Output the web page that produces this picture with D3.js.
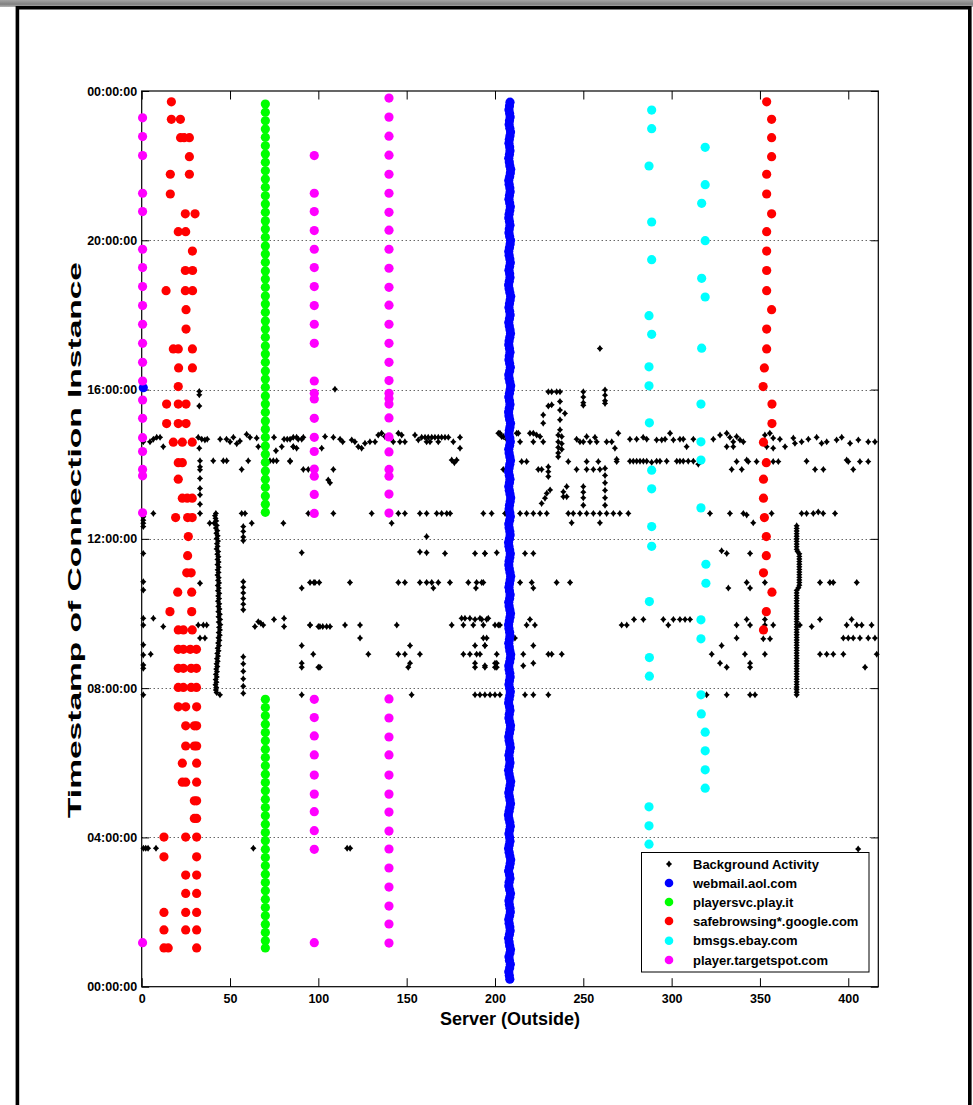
<!DOCTYPE html>
<html>
<head>
<meta charset="utf-8">
<script src="https://cdn.jsdelivr.net/npm/d3@7"></script>
<style>
  html, body { margin: 0; padding: 0; background: #fff; }
  svg { display: block; }
  text { font-family: "Liberation Sans", Arial, Helvetica, sans-serif; font-weight: bold; fill: #000; }
</style>
</head>
<body>
<svg id="chart" width="973" height="1105"></svg>
<script>
// ---------- axes ----------
const serverTicks = [0, 50, 100, 150, 200, 250, 300, 350, 400];
const hourTicks = [0, 4, 8, 12, 16, 20, 24];
const hourTickLabels = ["00:00:00", "04:00:00", "08:00:00", "12:00:00", "16:00:00", "20:00:00", "00:00:00"];
const serverDomain = [0, 417];
const hourDomain = [0, 24];

// ---------- legend ----------
const seriesNames = ["Background Activity", "webmail.aol.com", "playersvc.play.it",
  "safebrowsing*.google.com", "bmsgs.ebay.com", "player.targetspot.com"];
const seriesColors = ["#000000", "#0000ff", "#00ff00", "#ff0000", "#00ffff", "#ff00ff"];

// ---------- background activity: [server, hour] ----------
const backgroundScatter = [
  [0.9,14.60],[4.7,14.60],[6.6,14.67],[8.5,14.72],[10.4,14.72],[12.2,14.47],
  [32,14.72],[34,14.67],[35.8,14.65],[37.1,14.67],[32.6,14.43],
  [32.6,15.95],[32.6,15.86],[32.6,15.56],
  [44.4,14.67],[48,14.67],[50,14.60],[51.9,14.72],[53.8,14.55],[55.6,14.62],[59.4,14.80],[61.3,14.72],
  [65.1,14.70],[66,14.47],[74.9,14.72],[76,14.36],[79.3,14.47],[80.6,14.67],[82.4,14.67],[85.8,14.47],[87.7,14.72],[90.6,14.67],
  [33,14.09],[40.5,14.09],[46.2,14.09],[48.1,14.09],[60.3,14.09],[72.6,14.09],[74.5,14.09],[76.4,14.09],[84,14.09],
  [33,13.93],[33,13.85],[56.6,13.86],[33,13.62],[33,13.35],[33,13.18],[33,12.93],[33,12.68],
  [6.6,12.68],[56.6,12.68],[58.5,12.68],[62.3,12.42],[80.2,12.42],
  [0.9,12.59],[0.9,12.50],[0.9,12.42],[0.9,12.33],[0.9,11.61],
  [57.5,12.33],[57.5,12.20],[57.5,12.05],[57.5,11.95],[90.6,11.63],
  [0.9,10.85],[0.9,10.63],[33,10.81],
  [57.5,10.85],[57.5,10.70],[57.5,10.55],[57.5,10.40],[57.5,10.25],[57.5,10.10],
  [90.6,10.68],[95.3,10.83],[98.1,10.83],[100.5,10.83],[16,10.05],
  [0.9,9.87],[0.9,9.69],[6.6,9.87],[12.2,9.65],
  [32,9.69],[34.9,9.69],[36.8,9.69],[33,9.34],[35.8,9.34],
  [64.1,9.65],[66,9.78],[67.4,9.74],[68.8,9.69],[74.9,9.84],[80.6,9.87],[80.6,9.65],
  [90.6,9.14],[90.6,8.67],[90.6,8.56],[95.3,9.69],[100,9.65],[102.5,9.65],[97.1,8.91],[100.9,8.56],
  [0.9,9.16],[0.9,8.89],[0.9,8.62],[0.9,8.53],[5.1,8.91],
  [57.5,8.84],[57.5,8.65],[57.5,8.45],[57.5,8.25],[57.5,8.05],[57.5,7.86],
  [0.9,7.82],[90.6,7.82],
  [1,3.71],[2.3,3.71],[3.6,3.71],[8.1,3.71],[63.2,3.71],[116.3,3.71],[118,3.71],[405.6,3.69],
  [109.4,16.01],
  [84,14.67],[85.8,14.72],[88.6,14.67],[91.5,14.72],[85.8,14.47],[87.7,14.43],
  [101.9,14.43],[103.8,14.74],[108.5,14.72],[112.3,14.67],[113.8,14.60],
  [118.9,14.65],[120.7,14.60],[122.6,14.47],[124.5,14.43],[126.4,14.56],[129.2,14.60],[132.1,14.60],
  [133.9,14.78],[135.8,14.83],[137.7,14.74],
  [142.4,14.60],[145.3,14.83],[147.2,14.78],[146.2,14.60],[149,14.60],
  [154.7,14.78],[156.6,14.65],[158.5,14.72],[160.4,14.72],[162.2,14.72],[164.2,14.72],[166,14.72],
  [167.9,14.72],[169.8,14.72],[171.7,14.72],[173.6,14.72],[176.4,14.60],[180.2,14.72],[180.2,14.43],
  [161.3,14.60],[163.2,14.60],[167.9,14.60],
  [175.5,14.11],[178.3,14.11],[177,14.04],
  [201.9,14.83],[203.8,14.74],[212.3,14.83],
  [91.5,13.86],[94.3,13.86],[108.5,13.86],[84,14.07],
  [105.6,13.58],[106.6,13.50],
  [94.3,12.68],[108.5,12.68],[130.2,12.68],[145.3,12.68],[149,12.68],[157.5,12.68],[161.3,12.68],
  [167,12.68],[169.8,12.68],[172.7,12.68],[174.6,12.68],
  [141.5,12.42],[161.3,12.06],
  [157.5,11.65],[161.3,11.63],[171.7,11.61],[188.7,11.61],[194.3,11.61],[201,11.63],
  [97.5,10.83],[117.9,10.83],[145.3,10.83],[149,10.83],[157.5,10.83],[161.3,10.83],[164.2,10.83],
  [165.1,10.68],[167.9,10.83],[174.5,10.83],[184.9,10.83],[189.6,10.83],[192.5,10.83],[189.2,10.68],
  [95.3,9.69],[100.9,9.65],[104.7,9.65],[106.6,9.65],[115.1,9.69],[123.6,9.69],[144.4,9.69],[175.5,9.69],
  [181.1,9.87],[183,9.87],[185.8,9.87],[188.7,9.84],[191.5,9.87],[196.2,9.87],[182.1,9.69],[187.7,9.69],
  [200,9.69],[201.9,9.69],
  [123.6,9.34],[151.9,9.14],[188.7,9.14],[195.3,9.34],[194.3,9.14],
  [128.3,8.91],[145.3,8.91],[149,8.91],[157.5,8.91],[182.1,8.91],[185.8,8.91],[189.6,8.91],[191.5,8.91],[201,8.91],
  [151.9,8.67],[150.9,8.56],[188.7,8.67],[188.7,8.56],[194.3,8.56],[201,8.67],[201,8.56],[100,8.56],
  [152.8,7.82],[188.7,7.82],[191.5,7.82],
  [230.2,15.94],[232.1,15.94],[234.9,15.94],[236.8,15.94],
  [250,15.94],[250,15.80],[250,15.65],[250,15.58],
  [262.3,15.99],[262.3,15.85],[262.3,15.70],[262.3,15.63],
  [230.2,15.56],[232.1,15.59],[236.8,15.68],[236.8,15.45],[239.6,15.36],
  [227.3,15.32],[227.3,15.10],[236.8,15.19],[236.8,14.92],[259.4,17.10],
  [202.8,14.83],[204.7,14.74],[206.6,14.67],[213.2,14.83],[214.2,14.60],[219.8,14.83],[221.7,14.83],
  [223.6,14.78],[225.5,14.74],[227.3,14.60],[221.7,14.60],
  [235.8,14.78],[235.8,14.60],[235.8,14.45],[235.8,14.30],[235.8,14.20],[237.8,14.74],[237.8,14.55],[237.8,14.40],
  [246.2,14.67],[248.1,14.60],[250,14.60],[251.9,14.74],[253.8,14.60],[256.6,14.72],[257.6,14.60],
  [263.2,14.60],[266.1,14.60],[267.9,14.43],[269.8,14.83],
  [276.4,14.67],[280.2,14.67],[283.9,14.72],[285.9,14.67],[291.5,14.65],[294.4,14.65],[296.3,14.67],
  [299.1,14.83],[301,14.65],[304.7,14.67],[306.6,14.67],[308.5,14.47],[312.3,14.67],
  [323.6,14.67],[327.4,14.78],[331.2,14.83],[333,14.72],[334.9,14.60],[336.8,14.74],[338.7,14.65],
  [340.6,14.60],[331.2,14.47],[334.9,14.47],
  [352.8,14.78],[355.6,14.83],[357.5,14.70],[353.8,14.47],[357.5,14.43],[361.3,14.67],[364.2,14.47],
  [368.9,14.70],[369.8,14.56],
  [373.6,14.60],[377.4,14.67],[382.1,14.72],[384.9,14.56],[387.8,14.60],[393.4,14.65],[396.3,14.72],
  [401,14.56],[405.7,14.65],[411.3,14.60],[415.1,14.60],
  [204.7,13.86],[215.1,14.07],[217.9,14.07],[224.5,13.86],[226.4,13.86],[230.2,13.93],[230.2,13.80],
  [230.2,13.67],[241.5,14.07],
  [246.2,13.86],[251.9,14.07],[251.9,13.86],[255.7,13.86],[258.5,14.07],[259.4,13.86],[268.9,14.07],[268.9,14.13],
  [262.3,13.89],[262.3,13.70],[262.3,13.50],[262.3,13.30],[262.3,13.10],[262.3,12.90],
  [250,13.40],[250,13.25],[250,13.10],[250,12.90],
  [276.4,14.08],[278.3,14.08],[280.2,14.08],[282.1,14.08],[284,14.08],[285.9,14.08],[288.7,14.05],
  [291.5,14.08],[293.4,14.08],[297.2,14.08],[302.9,14.08],[304.7,14.08],[306.6,14.08],[309.4,14.08],
  [312.3,14.08],[315.1,14.00],
  [334,13.86],[336.8,14.07],[339.7,13.86],[342.5,14.11],[343.4,14.07],[348.1,14.07],[353.8,14.07],
  [357.5,14.07],[360.4,14.07],
  [376.4,14.08],[381.2,13.86],[385.9,13.86],[399.1,14.11],[400,14.07],[402.8,13.86],[406.6,14.07],[411.3,14.07],
  [193.4,12.68],[198.1,12.68],[205.7,12.68],[214.2,12.68],[217.9,12.68],[221.7,12.68],[225.5,12.68],[229.3,12.68],
  [226.4,12.95],[228.3,13.09],[229.3,13.22],[231.2,13.31],[238.7,13.26],[240.6,13.40],[238.7,13.13],[240.6,13.13],
  [241.5,12.68],[244.3,12.68],[248.1,12.68],[251.9,12.68],[255.7,12.68],[259.4,12.68],[263.2,12.68],
  [267,12.68],[270.7,12.68],[275.5,12.68],
  [243.4,12.43],[259.4,12.43],
  [321.7,12.68],[333,12.68],[340.6,12.68],[342.5,12.64],[346.2,12.43],[356.6,12.68],
  [373.6,12.68],[376.4,12.68],[380.2,12.68],[383,12.72],[385.8,12.68],[392.5,12.68],
  [194.3,11.61],[217,11.61],[221.7,11.61],[328.3,11.68],[331.2,11.61],[344.4,11.61],
  [193.4,10.83],[214.2,10.83],[220.8,10.83],[221.7,10.68],[234.9,10.83],[242.5,10.83],
  [332.1,10.68],[342.5,10.83],[344.4,10.68],[352.8,10.83],
  [384,10.83],[389.6,10.83],[391.5,10.83],[404.8,10.83],
  [192.5,9.84],[195.3,9.84],[193.4,9.69],[202.8,9.69],[217.9,9.69],[219.8,9.84],[222.6,9.69],
  [271.7,9.69],[274.6,9.69],[278.7,9.84],[284,9.84],[295.3,9.84],[298.1,9.69],[301,9.84],[304.7,9.84],
  [307.6,9.84],[310.4,9.84],
  [336.8,9.69],[342.5,9.84],[344.4,9.69],[352.8,9.84],[352.8,9.69],[357.5,9.69],[372.6,9.69],[379.3,9.65],
  [384,9.84],[399.1,9.69],[401.9,9.84],[404.8,9.69],[407.6,9.69],[413.2,9.69],
  [193.4,9.34],[211.3,9.34],[336.8,9.34],[351.9,9.32],[355.7,9.32],
  [397.2,9.34],[400,9.34],[402.8,9.34],[406.6,9.34],[411.3,9.34],[415.1,9.34],
  [194.3,9.14],[216,8.91],[221.7,9.14],[230.2,8.91],[232.1,8.91],[237.8,8.91],
  [322.7,8.91],[328.3,9.14],[341.5,8.91],[352.8,8.91],
  [384,8.91],[387.8,8.91],[391.5,8.91],[397.2,8.91],[416.1,8.91],
  [194.3,8.60],[200,8.67],[200,8.56],[216,8.60],[221.7,8.67],
  [327.4,8.67],[331.2,8.56],[344.4,8.67],[344.4,8.56],[409.5,8.56],
  [194.3,7.82],[197.2,7.82],[200,7.82],[202.8,7.82],[217,7.82],[221.7,7.82],[230.2,7.82],
  [319.8,7.82],[331.2,7.82],[344.4,7.82],[347.2,7.82]
];

// dense morning burst near server 43
const burstNear43 = [
  [42.0,12.68],[41.5,12.62],[41.8,12.55],[42.2,12.48],[38.5,12.42],[41.0,12.42],[42.5,12.36],[42.0,12.29],
  [42.8,12.22],[42.3,12.15],[43.0,12.08],[42.5,12.01],[43.2,11.94],[42.6,11.87],[43.0,11.80],[42.4,11.73],
  [43.3,11.66],[42.8,11.59],[43.4,11.52],[42.9,11.45],[43.5,11.38],[42.9,11.31],[43.6,11.24],[43.0,11.17],
  [43.5,11.10],[42.9,11.03],[43.6,10.96],[43.2,10.89],[43.8,10.82],[43.1,10.75],[43.7,10.68],[43.2,10.61],
  [43.9,10.54],[43.3,10.47],[43.8,10.40],[43.2,10.33],[43.9,10.26],[43.4,10.19],[44.0,10.12],[43.4,10.05],
  [44.2,9.98],[43.5,9.91],[44.4,9.84],[43.6,9.77],[44.5,9.70],[43.8,9.63],[44.3,9.56],[43.6,9.49],
  [44.2,9.42],[43.5,9.35],[44.0,9.28],[43.3,9.21],[43.8,9.14],[43.0,9.07],[43.5,9.00],[42.8,8.93],
  [43.2,8.86],[42.6,8.79],[43.0,8.72],[42.4,8.65],[42.8,8.58],[42.2,8.51],[42.6,8.44],[42.0,8.37],
  [42.5,8.30],[41.9,8.23],[42.3,8.16],[41.8,8.09],[42.2,8.02],[42.0,7.95],[42.4,7.88],[44.3,7.82]
];

// dense morning burst near server 371
const burstNear371 = [
  [370.8,12.35],[370.8,12.28],[370.8,12.21],[370.8,12.14],[370.8,12.07],[370.8,12.00],[370.8,11.93],
  [370.8,11.86],[370.8,11.79],[370.8,11.72],[371.3,11.66],
  [372.3,11.60],[372.3,11.53],[372.3,11.46],[372.3,11.39],[372.3,11.32],[372.3,11.25],[372.3,11.18],
  [372.3,11.11],[372.3,11.04],[372.3,10.97],[372.3,10.90],[372.3,10.83],[372.3,10.76],[371.8,10.69],
  [370.8,10.62],[370.8,10.55],[370.8,10.48],[370.8,10.41],[370.8,10.34],[370.8,10.27],[370.8,10.20],
  [370.8,10.13],[370.8,10.06],[370.8,9.99],[370.8,9.92],[370.8,9.85],[370.8,9.78],[370.8,9.71],
  [370.8,9.64],[370.8,9.57],[370.8,9.50],[370.8,9.43],[370.8,9.36],[370.8,9.29],[370.8,9.22],
  [370.8,9.15],[370.8,9.08],[370.8,9.01],[370.8,8.94],[370.8,8.87],[370.8,8.80],[370.8,8.73],
  [370.8,8.66],[370.8,8.59],[370.8,8.52],[370.8,8.45],[370.8,8.38],[370.8,8.31],[370.8,8.24],
  [370.8,8.17],[370.8,8.10],[370.8,8.03],[370.8,7.96],[370.8,7.89],[370.8,7.82]
];

// ---------- webmail.aol.com: [minute of day, server] ----------
const webmailPoints = [
  [12,208.4],[18,208.1],[24,207.8],[30,208.3],[36,208.7],[42,208.2],[48,207.9],[54,208.5],[60,208.8],[66,208.3],
  [72,208.0],[78,207.7],[84,208.2],[90,208.6],[96,208.4],[102,208.0],[108,207.8],[114,208.3],[120,208.7],[126,208.5],
  [132,208.1],[138,207.9],[144,208.4],[150,208.8],[156,208.3],[162,207.8],[168,208.0],[174,208.5],[180,208.2],[186,207.7],
  [192,208.2],[198,208.6],[204,208.9],[210,208.4],[216,208.0],[222,207.7],[228,208.1],[234,208.5],[240,208.3],[246,207.9],
  [252,208.3],[258,208.7],[264,208.4],[270,207.9],[276,207.6],[282,208.0],[288,208.4],[294,208.8],[300,208.5],[306,208.1],
  [312,207.8],[318,208.2],[324,208.6],[330,208.9],[336,208.4],[342,208.0],[348,207.7],[354,208.1],[360,208.5],[366,208.2],
  [372,207.9],[378,208.3],[384,208.7],[390,208.4],[396,208.0],[402,207.8],[408,208.2],[414,208.6],[420,208.8],[426,208.3],
  [432,207.9],[438,208.1],[444,208.5],[450,208.2],[456,207.7],[462,208.0],[468,208.4],[474,208.7],[480,208.3],[486,207.9],
  [492,208.2],[498,208.6],[504,208.4],[510,208.0],[516,207.8],[522,208.3],[528,208.7],[534,208.9],[540,208.4],[546,208.1],
  [552,207.8],[558,208.2],[564,208.5],[570,208.3],[576,207.9],[582,207.7],[588,208.1],[594,208.5],[600,208.8],[606,208.4],
  [612,208.0],[618,207.8],[624,208.3],[630,208.6],[636,208.2],[642,207.9],[648,208.2],[654,208.6],[660,208.9],[666,208.5],
  [672,208.1],[678,207.8],[684,208.0],[690,208.4],[696,208.7],[702,208.3],[708,207.9],[714,207.7],[720,208.2],[726,208.6],
  [732,208.4],[738,208.0],[744,207.8],[750,208.3],[756,208.7],[762,208.4],[768,208.0],[774,208.2],[780,208.6],[786,208.9],
  [792,208.5],[798,208.1],[804,207.8],[810,208.2],[816,208.5],[822,208.1],[828,207.7],[834,208.0],[840,208.4],[846,208.8],
  [852,208.4],[858,208.0],[864,207.8],[870,208.3],[876,208.7],[882,208.4],[888,207.9],[894,208.1],[900,208.5],[906,208.8],
  [912,208.3],[918,207.9],[924,207.7],[930,208.1],[936,208.5],[942,208.2],[948,207.8],[954,208.2],[960,208.6],[966,208.9],
  [972,208.4],[978,208.0],[984,207.8],[990,208.3],[996,208.7],[1002,208.3],[1008,207.9],[1014,208.1],[1020,208.5],[1026,208.2],
  [1032,207.8],[1038,208.0],[1044,208.4],[1050,208.8],[1056,208.5],[1062,208.1],[1068,207.8],[1074,208.2],[1080,208.6],[1086,208.3],
  [1092,207.9],[1098,208.2],[1104,208.6],[1110,208.9],[1116,208.4],[1122,208.0],[1128,207.7],[1134,208.1],[1140,208.5],[1146,208.3],
  [1152,207.9],[1158,208.3],[1164,208.7],[1170,208.4],[1176,208.0],[1182,207.8],[1188,208.2],[1194,208.6],[1200,208.8],[1206,208.3],
  [1212,207.9],[1218,208.1],[1224,208.5],[1230,208.2],[1236,207.8],[1242,208.0],[1248,208.4],[1254,208.7],[1260,208.3],[1266,207.9],
  [1272,208.2],[1278,208.6],[1284,208.4],[1290,208.0],[1296,207.8],[1302,208.3],[1308,208.7],[1314,208.9],[1320,208.4],[1326,208.1],
  [1332,207.8],[1338,208.2],[1344,208.5],[1350,208.3],[1356,207.9],[1362,208.1],[1368,208.5],[1374,208.8],[1380,208.4],[1386,208.0],
  [1392,208.2],[1398,208.6],[1404,208.3],[1410,207.9],[1416,208.2],[1422,208.5]
];
const webmailStray = [[0.9, 16.05]];

// ---------- playersvc.play.it (server 70): hours ----------
const playersvcServer = 70;
const playersvcHours = [
  23.65, 23.43, 23.20, 22.98, 22.76, 22.53, 22.31, 22.09, 21.86, 21.64,
  21.42, 21.19, 20.97, 20.75, 20.52, 20.30, 20.08, 19.85, 19.63, 19.41,
  19.18, 18.96, 18.74, 18.51, 18.29, 18.07, 17.84, 17.62, 17.40, 17.17,
  16.95, 16.73, 16.50, 16.28, 16.06, 15.83, 15.61, 15.39, 15.16, 14.94,
  14.72, 14.49, 14.27, 14.05, 13.82, 13.60, 13.38, 13.15, 12.93, 12.71,
  7.70, 7.48, 7.26, 7.03, 6.81, 6.59, 6.36, 6.14, 5.92, 5.69,
  5.47, 5.25, 5.02, 4.80, 4.58, 4.35, 4.13, 3.91, 3.68, 3.46,
  3.24, 3.01, 2.79, 2.57, 2.34, 2.12, 1.90, 1.67, 1.45, 1.23, 1.04
];

// ---------- safebrowsing*.google.com: [server, hour] ----------
const safebrowsingPoints = [
  [16.8,23.71],[16.8,23.24],[21.9,23.24],[22,22.75],[24,22.75],[27,22.75],[27,22.24],
  [16.2,21.77],[27,21.77],[16.2,21.24],[24.7,20.71],[30.2,20.71],[20.7,20.23],[24.9,20.23],
  [28.7,19.71],[24.7,19.19],[28.8,19.19],[13.8,18.65],[24.7,18.65],[28.8,18.65],[25.1,18.14],
  [25.1,17.62],[17.9,17.09],[20.7,17.09],[28.7,17.09],[20.9,16.58],[28.7,16.58],[20.7,16.08],
  [14.1,15.61],[20.7,15.61],[25.1,15.61],[14.1,15.09],[20.7,15.09],[25.1,15.09],
  [17.9,14.59],[23,14.59],[28.6,14.59],[20.7,14.04],[23,14.04],[20.7,13.60],
  [23,13.09],[25.8,13.09],[28.6,13.09],[19.2,12.57],[26,12.57],[28.6,12.57],[26.4,12.06],[26,11.55],
  [25.5,11.09],[28,11.09],[20.4,10.57],[28.3,10.57],[16,10.05],[28.3,10.05],
  [20.7,9.56],[23.6,9.56],[28.6,9.56],[20.7,9.04],[23.6,9.04],[27.5,9.04],[31,9.04],
  [20.7,8.53],[23.6,8.53],[28,8.53],[31,8.53],[20.7,8.02],[23.6,8.02],[28,8.02],[31,8.02],
  [20.7,7.50],[24.9,7.50],[31.1,7.50],[24.9,6.99],[29.8,6.99],[31.1,6.99],[24.9,6.45],[29.8,6.45],[31.1,6.45],
  [23,5.99],[31.1,5.99],[23,5.48],[24.9,5.48],[31.1,5.48],[29.8,4.98],[31.1,4.98],[29.8,4.51],[31.1,4.51],
  [12.6,4.01],[24.9,4.01],[31.1,4.01],[12.6,3.48],[31.1,3.48],[24.9,2.99],[31.1,2.99],[24.9,2.50],[31.1,2.50],
  [12.6,1.99],[24.9,1.99],[31.1,1.99],[12.6,1.52],[24.9,1.52],[31.1,1.52],[12.6,1.04],[15,1.04],[31.1,1.04],
  [353.8,23.71],[356.6,23.24],[356.6,22.75],[356.6,22.24],[353.8,21.77],[353.8,21.24],[356.6,20.71],
  [353.8,20.23],[353.8,19.71],[353.8,19.19],[353.8,18.65],[356.6,18.14],[353.8,17.62],[353.8,17.09],
  [352.5,16.58],[351.8,16.08],[356.8,15.61],[356.8,15.09],[352,14.59],[353.6,14.04],[352,13.60],
  [352,13.09],[352.5,12.57],[353.6,12.06],[353.6,11.55],[352,11.09],[356.8,10.57],[353.6,10.05],[352,9.56]
];

// ---------- bmsgs.ebay.com: [server, hour] ----------
const bmsgsPoints = [
  [288.7,23.49],[288.7,22.99],[319,22.49],[287.2,21.99],[319,21.49],[317,20.99],[288.7,20.49],
  [319,19.99],[288.7,19.48],[317,18.98],[319,18.48],[287.2,17.98],[288.7,17.48],[317,17.11],
  [287.2,16.61],[287.2,16.10],[316.6,15.61],[287.4,15.11],[316.6,14.60],[316.6,14.11],[288.7,13.84],
  [288.7,13.34],[316.6,12.83],[288.7,12.33],[288.7,11.80],[319.4,11.32],[319.4,10.81],[287.4,10.32],
  [316.6,9.83],[316.6,9.32],[287.4,8.82],[287.4,8.32],[316.6,7.82],[316.8,7.31],[319,6.82],
  [319,6.32],[319,5.81],[319,5.32],[287.2,4.82],[287.2,4.31],[287.2,3.82]
];

// ---------- player.targetspot.com: hours per server ----------
const targetspotAt0 = [23.28, 22.78, 22.27, 21.26, 20.77, 19.76, 19.27, 18.76, 18.25, 17.75, 17.24,
  16.73, 16.23, 15.72, 15.23, 14.71, 14.34, 13.86, 13.69, 12.70, 1.18];
const targetspotAt98 = [22.27, 21.26, 20.77, 20.26, 19.76, 19.27, 18.76, 18.25, 17.75, 17.24, 16.23,
  15.90, 15.75, 15.23, 14.72, 14.34, 13.87, 13.68, 13.19, 12.68,
  7.70, 7.21, 6.72, 6.21, 5.67, 5.16, 4.69, 4.18, 3.68, 1.18];
const targetspotAt140 = [23.81, 23.30, 22.79, 22.28, 21.77, 21.26, 20.75, 20.27, 19.76, 19.25, 18.74,
  18.26, 17.75, 17.24, 16.73, 16.24, 15.90, 15.76, 15.61, 15.24, 14.73, 14.33, 13.86, 13.68, 13.20, 12.69,
  7.71, 7.20, 6.69, 6.21, 5.67, 5.16, 4.68, 4.17, 3.69, 3.18, 2.67, 2.16, 1.68, 1.17];

// ---------- drawing ----------
const svg = d3.select("#chart");
const W = 973, Hh = 1105;

svg.append("rect").attr("width", W).attr("height", Hh).attr("fill", "#fff");

// page frame with a grey band along the top
const defs = svg.append("defs");
const grad = defs.append("linearGradient").attr("id", "topShade").attr("x1", 0).attr("y1", 0).attr("x2", 0).attr("y2", 1);
grad.append("stop").attr("offset", "0%").attr("stop-color", "#a4a4a4");
grad.append("stop").attr("offset", "60%").attr("stop-color", "#808080");
grad.append("stop").attr("offset", "100%").attr("stop-color", "#b5b5b5");
svg.append("rect").attr("x", 0).attr("y", 0).attr("width", W).attr("height", 7).attr("fill", "url(#topShade)");
svg.append("path")
  .attr("d", `M17.4,${Hh} V7.8 H969.8 V${Hh}`)
  .attr("fill", "none").attr("stroke", "#000").attr("stroke-width", 3.6);

const x = d3.scaleLinear().domain(serverDomain).range([141.7, 878.3]);
const y = d3.scaleLinear().domain(hourDomain).range([986.7, 91]);
const [x0, x1] = x.range();
const [yb, yt] = y.range();

// dotted horizontal grid
svg.append("g").selectAll("line")
  .data(hourTicks.slice(1, -1))
  .join("line")
  .attr("x1", x0).attr("x2", x1)
  .attr("y1", d => Math.round(y(d)) + 0.5).attr("y2", d => Math.round(y(d)) + 0.5)
  .attr("stroke", "#222").attr("stroke-width", 1).attr("stroke-dasharray", "1,3");

// axes with inward ticks
const tickStyle = g => {
  g.select(".domain").remove();
  g.selectAll(".tick line").attr("stroke", "#000").attr("stroke-width", 1);
  g.selectAll(".tick text").attr("font-size", "12.5px").attr("font-weight", "bold")
    .attr("font-family", '"Liberation Sans", Arial, sans-serif').attr("fill", "#000");
};
svg.append("g").attr("transform", `translate(0,${yb})`)
  .call(d3.axisBottom(x).tickValues(serverTicks).tickSizeInner(-8.5).tickSizeOuter(0).tickPadding(7).tickFormat(d3.format("d")))
  .call(tickStyle);
svg.append("g").attr("transform", `translate(0,${yt})`)
  .call(d3.axisTop(x).tickValues(serverTicks).tickSizeInner(-8.5).tickSizeOuter(0).tickFormat(""))
  .call(tickStyle);
svg.append("g").attr("transform", `translate(${x0},0)`)
  .call(d3.axisLeft(y).tickValues(hourTicks).tickSizeInner(-7.5).tickSizeOuter(0).tickPadding(4.5)
    .tickFormat((d, i) => hourTickLabels[i]))
  .call(tickStyle);
svg.append("g").attr("transform", `translate(${x1},0)`)
  .call(d3.axisRight(y).tickValues(hourTicks).tickSizeInner(-7.5).tickSizeOuter(0).tickFormat(""))
  .call(tickStyle);

svg.append("rect").attr("x", x0).attr("y", yt).attr("width", x1 - x0).attr("height", yb - yt)
  .attr("fill", "none").attr("stroke", "#000").attr("stroke-width", 1.2);

// axis titles
svg.append("text").attr("x", (x0 + x1) / 2).attr("y", 1025).attr("text-anchor", "middle")
  .attr("font-size", "18px").text("Server (Outside)");
svg.append("text").attr("transform", `translate(81,540) rotate(-90)`)
  .attr("text-anchor", "middle").attr("font-size", "18.5px")
  .attr("textLength", 556).attr("lengthAdjust", "spacingAndGlyphs")
  .text("Timestamp of Connection Instance");

// markers
const starPath = "M0,-3.5L1.4,-1.4L3.1,0L1.4,1.4L0,3.5L-1.4,1.4L-3.1,0L-1.4,-1.4Z";
const background = backgroundScatter.concat(burstNear43, burstNear371);
svg.append("g").selectAll("path")
  .data(background).join("path")
  .attr("d", starPath)
  .attr("transform", d => `translate(${x(d[0])},${y(d[1])})`)
  .attr("fill", "#000");

const R = 4.6;
function dots(data, color) {
  svg.append("g").selectAll("circle")
    .data(data).join("circle")
    .attr("cx", d => x(d[0])).attr("cy", d => y(d[1])).attr("r", R)
    .attr("fill", color);
}
dots(webmailPoints.map(d => [d[1], d[0] / 60]).concat(webmailStray), seriesColors[1]);
dots(playersvcHours.map(h => [playersvcServer, h]), seriesColors[2]);
dots(safebrowsingPoints, seriesColors[3]);
dots(bmsgsPoints, seriesColors[4]);
dots(targetspotAt0.map(h => [0.5, h])
  .concat(targetspotAt98.map(h => [97.7, h]))
  .concat(targetspotAt140.map(h => [140, h])), seriesColors[5]);

// legend
const lg = svg.append("g");
lg.append("rect").attr("x", 641.5).attr("y", 852.5).attr("width", 227.5).attr("height", 119.5)
  .attr("fill", "#fff").attr("stroke", "#000").attr("stroke-width", 1);
const rowY = [864, 883, 902, 921, 940.7, 960];
seriesNames.forEach((name, i) => {
  if (i === 0) {
    lg.append("path").attr("d", starPath).attr("transform", `translate(669,${rowY[i]})`).attr("fill", "#000");
  } else {
    lg.append("circle").attr("cx", 669).attr("cy", rowY[i]).attr("r", 4.3).attr("fill", seriesColors[i]);
  }
  lg.append("text").attr("x", 693).attr("y", rowY[i] + 4.6).attr("font-size", "13px").text(name);
});
</script>
</body>
</html>
